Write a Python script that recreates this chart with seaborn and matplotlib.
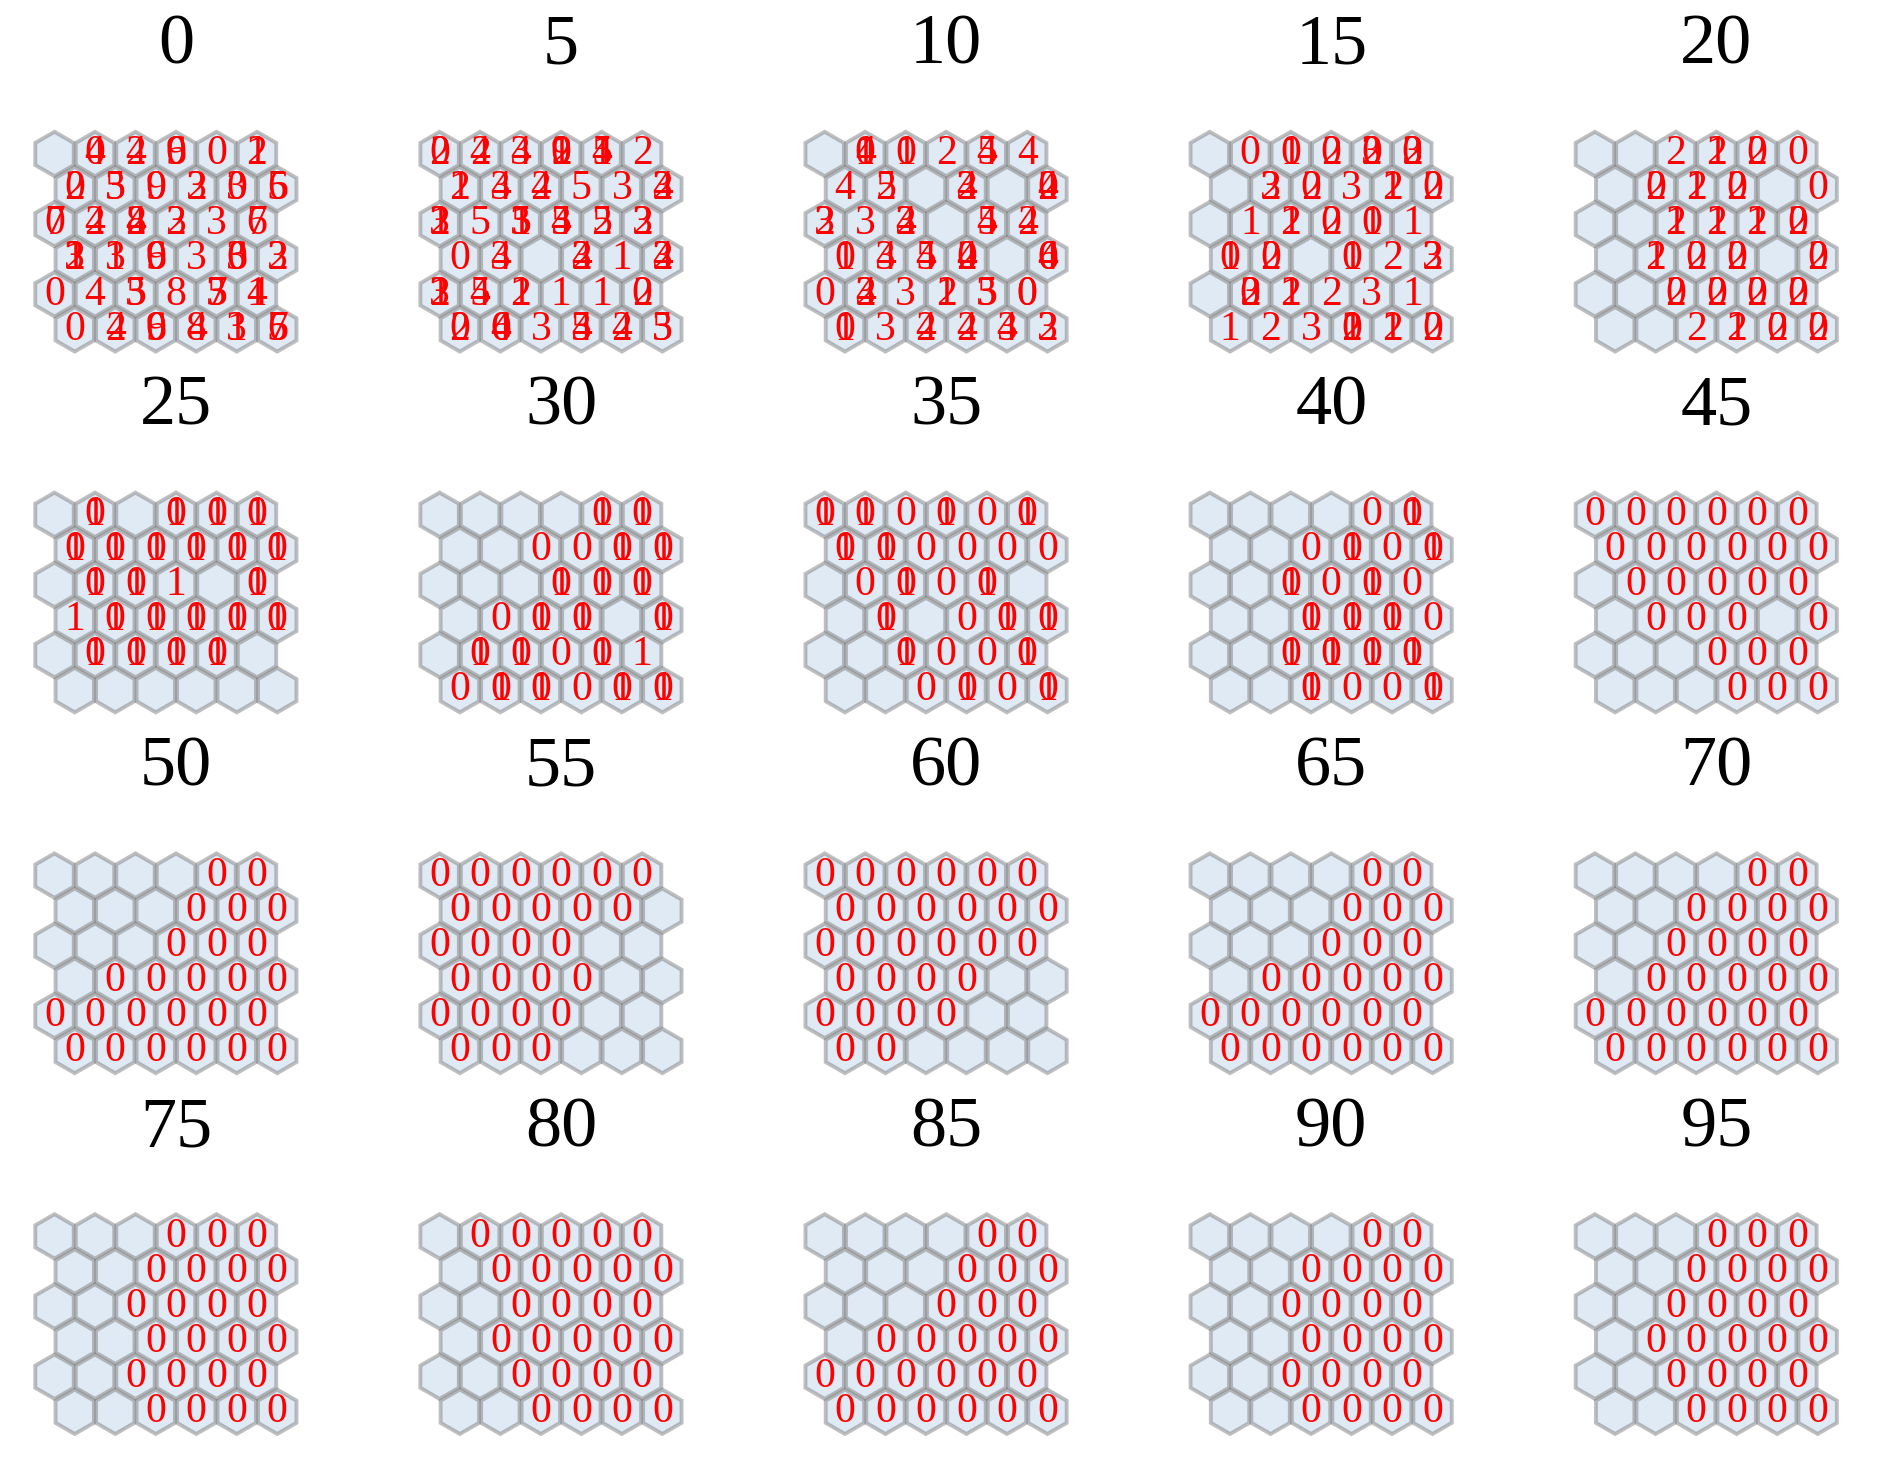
import numpy as np
import matplotlib
matplotlib.use('Agg')
import matplotlib.pyplot as plt
import seaborn as sns
from matplotlib.patches import RegularPolygon

# epoch shown above each map
epochs = list(range(0, 100, 5))

# labels of the samples won by each cell, rows top to bottom, '.' = no sample
grid_00 = [". 04 24 069 0 12",
           "02 35 09 23 03 56",
           "07 24 248 23 3 67",
           "123 13 069 3 036 23",
           "0 4 35 8 357 14",
           "0 24 069 48 13 567"]
grid_05 = ["02 24 34 0129 145 2",
           "12 34 24 5 3 234",
           "123 5 135 345 25 23",
           "0 34 . 234 1 234",
           "123 45 12 1 1 02",
           "02 046 3 345 24 35"]
grid_10 = [". 014 01 2 45 4",
           "4 25 . 234 . 024",
           "23 3 234 . 45 24",
           "01 34 45 024 . 046",
           "0 234 3 12 35 00",
           "01 3 24 24 34 23"]
grid_15 = [". 0 01 02 023 023",
           ". 23 02 3 12 02",
           ". 1 12 02 01 1",
           "01 02 . 01 2 23",
           ". 023 12 2 3 1",
           "1 2 3 012 12 02"]
grid_20 = [". . 2 12 02 0",
           ". 02 12 02 . 0",
           ". . 12 12 12 02",
           ". 12 02 02 . 02",
           ". . 02 02 02 02",
           ". . 2 12 02 02"]
grid_25 = [". 01 . 01 01 01",
           "01 01 01 01 01 01",
           ". 01 01 1 . 01",
           "1 01 01 01 01 01",
           ". 01 01 01 01 .",
           ". . . . . ."]
grid_30 = [". . . . 01 01",
           ". . 0 0 01 01",
           ". . . 01 01 01",
           ". 0 01 01 . 01",
           ". 01 01 0 01 1",
           "0 01 01 0 01 01"]
grid_35 = ["01 01 0 01 0 01",
           "01 01 0 0 0 0",
           ". 0 01 0 01 .",
           ". 01 . 0 01 01",
           ". . 01 0 0 01",
           ". . 0 01 0 01"]
grid_40 = [". . . . 0 01",
           ". . 0 01 0 01",
           ". . 01 0 01 0",
           ". . 01 01 01 0",
           ". . 01 01 01 01",
           ". . 01 0 0 01"]
grid_45 = ["0 0 0 0 0 0",
           "0 0 0 0 0 0",
           ". 0 0 0 0 0",
           ". 0 0 0 . 0",
           ". . . 0 0 0",
           ". . . 0 0 0"]
grid_50 = [". . . . 0 0",
           ". . . 0 0 0",
           ". . . 0 0 0",
           ". 0 0 0 0 0",
           "0 0 0 0 0 0",
           "0 0 0 0 0 0"]
grid_55 = ["0 0 0 0 0 0",
           "0 0 0 0 0 .",
           "0 0 0 0 . .",
           "0 0 0 0 . .",
           "0 0 0 0 . .",
           "0 0 0 . . ."]
grid_60 = ["0 0 0 0 0 0",
           "0 0 0 0 0 0",
           "0 0 0 0 0 0",
           "0 0 0 0 . .",
           "0 0 0 0 . .",
           "0 0 . . . ."]
grid_65 = [". . . . 0 0",
           ". . . 0 0 0",
           ". . . 0 0 0",
           ". 0 0 0 0 0",
           "0 0 0 0 0 0",
           "0 0 0 0 0 0"]
grid_70 = [". . . . 0 0",
           ". . 0 0 0 0",
           ". . 0 0 0 0",
           ". 0 0 0 0 0",
           "0 0 0 0 0 0",
           "0 0 0 0 0 0"]
grid_75 = [". . . 0 0 0",
           ". . 0 0 0 0",
           ". . 0 0 0 0",
           ". . 0 0 0 0",
           ". . 0 0 0 0",
           ". . 0 0 0 0"]
grid_80 = [". 0 0 0 0 0",
           ". 0 0 0 0 0",
           ". . 0 0 0 0",
           ". 0 0 0 0 0",
           ". . 0 0 0 0",
           ". . 0 0 0 0"]
grid_85 = [". . . . 0 0",
           ". . . 0 0 0",
           ". . . 0 0 0",
           ". 0 0 0 0 0",
           "0 0 0 0 0 0",
           "0 0 0 0 0 0"]
grid_90 = [". . . . 0 0",
           ". . 0 0 0 0",
           ". . 0 0 0 0",
           ". . 0 0 0 0",
           ". . 0 0 0 0",
           ". . 0 0 0 0"]
grid_95 = [". . . 0 0 0",
           ". . 0 0 0 0",
           ". . 0 0 0 0",
           ". 0 0 0 0 0",
           ". . 0 0 0 0",
           ". . 0 0 0 0"]

grids = [grid_00, grid_05, grid_10, grid_15, grid_20,
         grid_25, grid_30, grid_35, grid_40, grid_45,
         grid_50, grid_55, grid_60, grid_65, grid_70,
         grid_75, grid_80, grid_85, grid_90, grid_95]

sns.set_theme(style='white')
plt.rcParams['font.family'] = ['Liberation Serif', 'DejaVu Serif']
plt.rcParams['text.color'] = 'black'

W, H = 1890, 1464
s = 40.5  # pixels per map unit
fig = plt.figure(figsize=(W / 100, H / 100), dpi=100)

for k, (ep, g) in enumerate(zip(epochs, grids)):
    r, c = divmod(k, 5)
    x0 = 54.5 + c * 385.1
    y0 = 154 + r * 360.8
    ax = fig.add_axes([(x0 - 0.75 * s) / W, 1 - (y0 + 5.0 * s) / H,
                       7.5 * s / W, 5.75 * s / H])
    ax.set_xlim(-0.75, 6.75)
    ax.set_ylim(-5.0, 0.75)
    ax.axis('off')
    for i, row in enumerate(g):
        for j, cell in enumerate(row.split()):
            x = j + 0.5 * (i % 2)
            y = -i * np.sqrt(3) / 2
            ax.add_patch(RegularPolygon((x, y), numVertices=6,
                                        radius=0.95 / np.sqrt(3),
                                        facecolor='#dfeaf4',
                                        edgecolor=(0.45, 0.45, 0.45, 0.45),
                                        lw=2.8))
            if cell == '.':
                continue
            for d in cell:
                ax.text(x, y, d, color='red', ha='center', va='center',
                        fontsize=30)
    ax.set_title(str(ep), fontsize=52, pad=43, color='black')

fig.savefig('out.png', dpi=100)
